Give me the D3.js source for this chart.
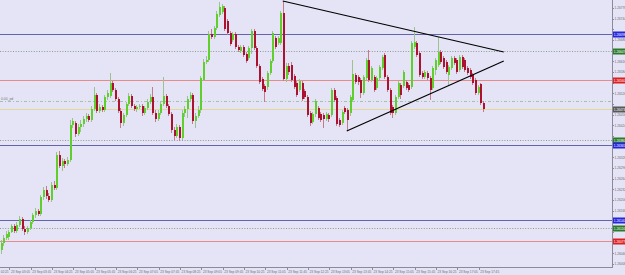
<!DOCTYPE html>
<html><head><meta charset="utf-8">
<script src="https://cdn.jsdelivr.net/npm/d3@7"></script>
<style>html,body{margin:0;padding:0;background:#e4e4f6;overflow:hidden}svg{display:block}</style>
</head><body><svg id="c" width="625" height="275"></svg>
<script>
const opens=[1.26050,1.26071,1.26086,1.26089,1.26104,1.26122,1.26107,1.26125,1.26143,1.26113,
1.26104,1.26116,1.26134,1.26155,1.26167,1.26158,1.26209,1.26230,1.26212,1.26200,
1.26245,1.26236,1.26335,1.26302,1.26317,1.26308,1.26320,1.26425,1.26431,1.26398,
1.26419,1.26428,1.26443,1.26452,1.26440,1.26473,1.26515,1.26467,1.26479,1.26470,
1.26509,1.26512,1.26551,1.26530,1.26503,1.26467,1.26431,1.26455,1.26488,1.26512,
1.26482,1.26473,1.26479,1.26482,1.26461,1.26476,1.26494,1.26509,1.26461,1.26443,
1.26461,1.26488,1.26512,1.26482,1.26458,1.26410,1.26392,1.26419,1.26386,1.26461,
1.26473,1.26503,1.26515,1.26437,1.26452,1.26470,1.26560,1.26614,1.26620,1.26698,
1.26689,1.26716,1.26755,1.26764,1.26776,1.26737,1.26701,1.26680,1.26698,1.26659,
1.26647,1.26659,1.26638,1.26626,1.26656,1.26707,1.26656,1.26602,1.26563,1.26542,
1.26539,1.26581,1.26617,1.26686,1.26671,1.26671,1.26761,1.26563,1.26602,1.26605,
1.26572,1.26551,1.26530,1.26551,1.26527,1.26509,1.26461,1.26434,1.26458,1.26476,
1.26458,1.26455,1.26443,1.26455,1.26455,1.26530,1.26506,1.26440,1.26431,1.26476,
1.26470,1.26461,1.26500,1.26575,1.26569,1.26560,1.26521,1.26566,1.26620,1.26560,
1.26569,1.26536,1.26566,1.26596,1.26635,1.26569,1.26530,1.26479,1.26461,1.26509,
1.26545,1.26542,1.26554,1.26545,1.26539,1.26659,1.26671,1.26641,1.26581,1.26569,
1.26581,1.26566,1.26536,1.26590,1.26605,1.26644,1.26626,1.26614,1.26575,1.26596,
1.26626,1.26620,1.26590,1.26629,1.26620,1.26596,1.26590,1.26575,1.26560,1.26521,
1.26548,1.26491];
const highs=[1.26080,1.26095,1.26107,1.26110,1.26128,1.26128,1.26134,1.26152,1.26149,1.26122,
1.26122,1.26140,1.26161,1.26176,1.26173,1.26215,1.26239,1.26242,1.26221,1.26254,
1.26257,1.26344,1.26347,1.26326,1.26323,1.26329,1.26440,1.26446,1.26437,1.26428,
1.26440,1.26452,1.26461,1.26458,1.26482,1.26539,1.26521,1.26488,1.26485,1.26515,
1.26530,1.26581,1.26557,1.26536,1.26509,1.26476,1.26461,1.26494,1.26521,1.26518,
1.26488,1.26485,1.26488,1.26488,1.26482,1.26503,1.26518,1.26539,1.26470,1.26470,
1.26494,1.26569,1.26518,1.26488,1.26464,1.26419,1.26428,1.26425,1.26470,1.26482,
1.26512,1.26524,1.26521,1.26461,1.26482,1.26572,1.26623,1.26632,1.26707,1.26713,
1.26722,1.26767,1.26794,1.26788,1.26782,1.26743,1.26707,1.26704,1.26704,1.26665,
1.26665,1.26665,1.26644,1.26662,1.26713,1.26713,1.26662,1.26608,1.26569,1.26548,
1.26587,1.26623,1.26707,1.26692,1.26692,1.26767,1.26797,1.26611,1.26611,1.26614,
1.26578,1.26557,1.26563,1.26557,1.26533,1.26515,1.26467,1.26464,1.26503,1.26482,
1.26464,1.26461,1.26464,1.26461,1.26536,1.26536,1.26512,1.26446,1.26470,1.26482,
1.26476,1.26515,1.26620,1.26581,1.26575,1.26566,1.26575,1.26626,1.26650,1.26602,
1.26575,1.26572,1.26605,1.26635,1.26641,1.26575,1.26536,1.26485,1.26515,1.26557,
1.26551,1.26590,1.26560,1.26551,1.26677,1.26719,1.26677,1.26647,1.26587,1.26590,
1.26587,1.26572,1.26602,1.26626,1.26689,1.26650,1.26632,1.26620,1.26605,1.26632,
1.26632,1.26626,1.26635,1.26635,1.26626,1.26602,1.26596,1.26581,1.26566,1.26545,
1.26551,1.26497];
const lows=[1.26038,1.26062,1.26080,1.26080,1.26101,1.26101,1.26101,1.26119,1.26107,1.26095,
1.26098,1.26110,1.26128,1.26146,1.26152,1.26152,1.26200,1.26203,1.26194,1.26194,
1.26230,1.26230,1.26296,1.26287,1.26296,1.26302,1.26314,1.26416,1.26389,1.26392,
1.26404,1.26419,1.26434,1.26434,1.26434,1.26467,1.26461,1.26461,1.26464,1.26464,
1.26500,1.26506,1.26524,1.26497,1.26461,1.26416,1.26422,1.26449,1.26482,1.26476,
1.26467,1.26464,1.26473,1.26452,1.26455,1.26470,1.26488,1.26455,1.26434,1.26437,
1.26455,1.26482,1.26476,1.26452,1.26401,1.26380,1.26386,1.26377,1.26380,1.26449,
1.26446,1.26494,1.26428,1.26416,1.26446,1.26461,1.26557,1.26608,1.26614,1.26683,
1.26683,1.26710,1.26749,1.26758,1.26707,1.26695,1.26662,1.26674,1.26653,1.26644,
1.26641,1.26629,1.26611,1.26620,1.26638,1.26650,1.26596,1.26548,1.26527,1.26494,
1.26530,1.26575,1.26611,1.26653,1.26665,1.26665,1.26557,1.26554,1.26575,1.26554,
1.26533,1.26509,1.26524,1.26497,1.26503,1.26449,1.26422,1.26428,1.26449,1.26440,
1.26434,1.26416,1.26437,1.26434,1.26449,1.26494,1.26422,1.26419,1.26425,1.26458,
1.26407,1.26452,1.26494,1.26548,1.26545,1.26506,1.26515,1.26560,1.26554,1.26554,
1.26524,1.26530,1.26560,1.26590,1.26563,1.26524,1.26455,1.26446,1.26455,1.26503,
1.26503,1.26536,1.26530,1.26524,1.26533,1.26653,1.26629,1.26569,1.26563,1.26563,
1.26560,1.26500,1.26530,1.26575,1.26599,1.26608,1.26593,1.26578,1.26545,1.26590,
1.26605,1.26578,1.26584,1.26593,1.26584,1.26575,1.26563,1.26545,1.26515,1.26515,
1.26485,1.26464];
const closes=[1.26071,1.26086,1.26098,1.26104,1.26122,1.26107,1.26125,1.26143,1.26113,1.26104,
1.26116,1.26134,1.26155,1.26167,1.26158,1.26209,1.26230,1.26212,1.26200,1.26245,
1.26236,1.26335,1.26302,1.26317,1.26308,1.26320,1.26425,1.26437,1.26398,1.26419,
1.26428,1.26443,1.26452,1.26440,1.26473,1.26515,1.26467,1.26479,1.26470,1.26509,
1.26521,1.26551,1.26530,1.26503,1.26467,1.26431,1.26455,1.26488,1.26512,1.26482,
1.26473,1.26479,1.26482,1.26461,1.26476,1.26494,1.26509,1.26461,1.26443,1.26461,
1.26488,1.26512,1.26482,1.26458,1.26410,1.26392,1.26419,1.26386,1.26461,1.26473,
1.26503,1.26515,1.26437,1.26452,1.26470,1.26566,1.26614,1.26620,1.26698,1.26689,
1.26716,1.26758,1.26779,1.26782,1.26713,1.26701,1.26668,1.26698,1.26659,1.26650,
1.26659,1.26635,1.26617,1.26656,1.26707,1.26656,1.26602,1.26554,1.26533,1.26524,
1.26581,1.26617,1.26701,1.26659,1.26686,1.26761,1.26563,1.26602,1.26584,1.26560,
1.26539,1.26515,1.26557,1.26503,1.26509,1.26455,1.26431,1.26458,1.26497,1.26446,
1.26440,1.26443,1.26458,1.26443,1.26530,1.26500,1.26428,1.26425,1.26464,1.26464,
1.26440,1.26509,1.26578,1.26554,1.26554,1.26521,1.26569,1.26620,1.26560,1.26596,
1.26530,1.26566,1.26599,1.26629,1.26569,1.26530,1.26461,1.26461,1.26509,1.26551,
1.26515,1.26584,1.26536,1.26530,1.26671,1.26674,1.26635,1.26575,1.26569,1.26584,
1.26566,1.26530,1.26596,1.26620,1.26644,1.26614,1.26599,1.26584,1.26599,1.26626,
1.26611,1.26584,1.26629,1.26599,1.26590,1.26581,1.26569,1.26551,1.26521,1.26539,
1.26491,1.26473];

const levelPrices=[1.26698,1.26647,1.26560,1.26497,1.26473,1.26380,1.26365,1.26140,1.26116,1.26077];
const levelKinds=["blue","dot","red","dashdot","bid","dot","blue","blue","dot","red"];

const priceTicks=[1.26776,1.26744,1.26712,1.26680,1.26648,1.26616,1.26584,1.26552,1.26520,1.26488,
1.26456,1.26424,1.26392,1.26360,1.26328,1.26296,1.26264,1.26232,1.26200,1.26168,
1.26136,1.26104,1.26072,1.26040,1.26008];
const priceTickLabels=["1.26776","1.26744","1.26712","1.26680","1.26648","1.26616","1.26584","1.26552","1.26520","1.26488",
"1.26456","1.26424","1.26392","1.26360","1.26328","1.26296","1.26264","1.26232","1.26200","1.26168",
"1.26136","1.26104","1.26072","1.26040","1.26008"];

const timeTickBars=[-5,3,11,19,27,35,43,51,59,67,75,83,91,99,107,115,123,131,139,147,155,163,171,179];
const timeTickLabels=["23 Sep 02:25","23 Sep 03:05","23 Sep 03:45","23 Sep 04:25","23 Sep 05:05","23 Sep 05:45",
"23 Sep 06:25","23 Sep 07:05","23 Sep 07:45","23 Sep 08:25","23 Sep 09:05","23 Sep 09:45","23 Sep 10:25",
"23 Sep 11:05","23 Sep 11:45","23 Sep 12:25","23 Sep 13:05","23 Sep 13:45","23 Sep 14:25","23 Sep 15:05",
"23 Sep 15:45","23 Sep 16:25","23 Sep 17:05","23 Sep 17:45"];

const trendStartBars=[105.5,129.5];
const trendStartPrices=[1.26797,1.26407];
const trendEndBars=[188.4,188.4];
const trendEndPrices=[1.26644,1.26617];

const leftLabel="0.00_pd";

// ---------- drawing ----------
const W=625,H=275,PR=612,PB=267;
const FONT="'Liberation Sans Narrow','Liberation Sans',sans-serif";
const svg=d3.select('#c');
svg.append('rect').attr('width',W).attr('height',H).attr('fill','#e4e4f6');
const x=d3.scaleLinear().domain([0,229]).range([1.5,612]);
const y=d3.scaleLinear().domain([1.25999,1.26800]).range([PB,0]);

svg.append('clipPath').attr('id','pc').append('rect').attr('x',0).attr('y',0).attr('width',PR).attr('height',PB);
const plot=svg.append('g').attr('clip-path','url(#pc)');

const styles={
  blue:{stroke:'#6464ae',dash:null,box:'#2626dc'},
  dot:{stroke:'#8c9c8c',dash:'1,1.6',box:'#2a7a2a'},
  red:{stroke:'#e68a8a',dash:null,box:'#dc2020'},
  dashdot:{stroke:'#a6c2a6',dash:'3,2,1,2',box:null},
  bid:{stroke:'#e4d898',dash:null,box:'#585858'}
};
const levels=levelPrices.map((p,i)=>({p,k:levelKinds[i]}));
plot.selectAll('line.lvl').data(levels).join('line').attr('class','lvl')
  .attr('x1',0).attr('x2',PR)
  .attr('y1',d=>Math.round(y(d.p))+0.5).attr('y2',d=>Math.round(y(d.p))+0.5)
  .attr('stroke',d=>styles[d.k].stroke).attr('stroke-width',1)
  .attr('stroke-dasharray',d=>styles[d.k].dash);

const bars=opens.map((o,i)=>({i,o,h:highs[i],l:lows[i],c:closes[i]}));
const cg=plot.append('g').attr('shape-rendering','crispEdges');
cg.selectAll('line.w').data(bars).join('line').attr('class','w')
  .attr('x1',d=>Math.round(x(d.i))-0.5).attr('x2',d=>Math.round(x(d.i))-0.5)
  .attr('y1',d=>y(d.h)).attr('y2',d=>y(d.l))
  .attr('stroke',d=>d.c>=d.o?'#9cc28e':'#c47c88').attr('stroke-width',1);
cg.selectAll('rect.b').data(bars).join('rect').attr('class','b')
  .attr('x',d=>Math.round(x(d.i))-1).attr('width',2)
  .attr('y',d=>y(Math.max(d.o,d.c)))
  .attr('height',d=>Math.max(1,Math.abs(y(d.o)-y(d.c))))
  .attr('fill',d=>d.c>=d.o?'#5fcf2c':'#ac1230');

const trends=trendStartBars.map((b,i)=>({b1:b,p1:trendStartPrices[i],b2:trendEndBars[i],p2:trendEndPrices[i]}));
plot.selectAll('line.tr').data(trends).join('line')
  .attr('x1',d=>x(d.b1)).attr('y1',d=>y(d.p1)).attr('x2',d=>x(d.b2)).attr('y2',d=>y(d.p2))
  .attr('stroke','#000').attr('stroke-width',1.2);

plot.append('text').attr('x',1).attr('y',y(levelPrices[3])-1).text(leftLabel)
  .attr('font-family',FONT).attr('font-size',3.4).attr('fill','#777');

// axes frame
svg.append('line').attr('x1',PR+0.5).attr('x2',PR+0.5).attr('y1',0).attr('y2',PB+1).attr('stroke','#8a8a9a');
svg.append('line').attr('x1',0).attr('x2',PR).attr('y1',PB+0.5).attr('y2',PB+0.5).attr('stroke','#8a8a9a');

const boxed=levels.filter(d=>styles[d.k].box);
const boxYs=boxed.map(d=>Math.round(y(d.p)));

// right ticks
const rt=svg.append('g');
rt.selectAll('line').data(priceTicks).join('line')
  .attr('x1',PR).attr('x2',PR+2).attr('y1',d=>Math.round(y(d))+0.5).attr('y2',d=>Math.round(y(d))+0.5)
  .attr('stroke','#8a8a9a');
const freeTicks=priceTicks.map((d,i)=>({d,i})).filter(t=>boxYs.every(b=>Math.abs(y(t.d)-b)>5.5));
rt.selectAll('text').data(freeTicks).join('text')
  .attr('x',PR+2.5).attr('y',t=>y(t.d)+1.2).text(t=>priceTickLabels[t.i])
  .attr('font-family',FONT).attr('font-size',3.2).attr('fill','#6a6a72');

const bg=svg.append('g');
bg.selectAll('rect').data(boxed).join('rect')
  .attr('x',PR+1).attr('width',W-PR-1).attr('y',d=>Math.round(y(d.p))-2.5).attr('height',6)
  .attr('fill',d=>styles[d.k].box);
bg.selectAll('text').data(boxed).join('text')
  .attr('x',PR+1.8).attr('y',d=>Math.round(y(d.p))+1.8).text(d=>d.p.toFixed(5))
  .attr('font-family',FONT).attr('font-size',3.2).attr('fill','#fff');

// bottom time ticks
const bt=svg.append('g');
bt.selectAll('line').data(timeTickBars).join('line')
  .attr('x1',d=>Math.round(x(d))+0.5).attr('x2',d=>Math.round(x(d))+0.5)
  .attr('y1',PB).attr('y2',PB+3).attr('stroke','#8a8a9a');
bt.selectAll('text').data(timeTickBars).join('text')
  .attr('x',d=>x(d)+1.5).attr('y',PB+5.5).text((d,i)=>timeTickLabels[i])
  .attr('font-family',FONT).attr('font-size',3.2).attr('fill','#6a6a72');
</script></body></html>
